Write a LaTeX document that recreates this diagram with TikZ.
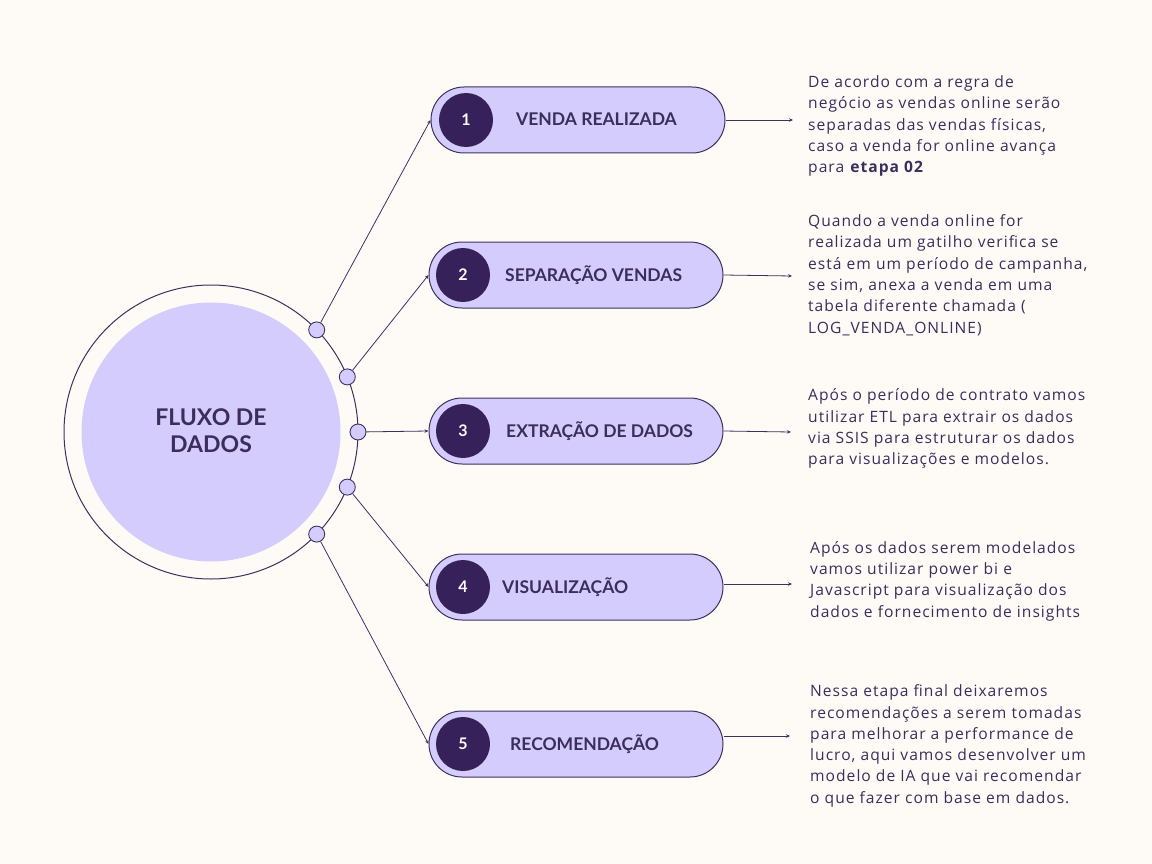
\documentclass[tikz,border=0pt]{standalone}
\usepackage{fontspec}
\setmainfont{Lato}
\newfontfamily\descfont[LetterSpace=6.5]{Open Sans}
\usetikzlibrary{shapes.misc,arrows.meta}
\definecolor{bg}{HTML}{FEFBF6}
\definecolor{lav}{HTML}{D4CCFC}
\definecolor{dark}{HTML}{36215A}
\definecolor{ink}{HTML}{3B2D5C}
\definecolor{edge}{HTML}{3E3160}
\begin{document}
\begin{tikzpicture}[x=1pt,y=-1pt,
 pill/.style={rounded rectangle, draw=edge, line width=1pt, fill=lav, minimum width=294pt, minimum height=66pt, inner sep=0pt},
 num/.style={circle, fill=dark, minimum size=54pt, inner sep=0pt, text=white, font=\fontsize{16}{16}\selectfont\bfseries},
 lbl/.style={anchor=base west, inner sep=0pt, text=ink, font=\fontsize{17.5}{17.5}\selectfont\bfseries},
 dot/.style={circle, draw=edge, line width=0.9pt, fill=lav, minimum size=16pt, inner sep=0pt},
 conn/.style={draw=edge, line width=0.8pt, -{Stealth[length=4pt,width=3.5pt]}},
 desc/.style={anchor=base west, inner sep=0pt, text=ink, font=\descfont\fontsize{15.6}{21.3}\selectfont}
]
\fill[bg] (0,0) rectangle (1152,864);
\useasboundingbox (0,0) rectangle (1152,864);
% central circle
\node[circle, draw=edge, line width=1pt, minimum size=294pt, inner sep=0pt] (outer) at (211,432) {};
\node[circle, fill=lav, minimum size=259pt, inner sep=0pt] (inner) at (211,432) {};
\node[align=center, text=ink, font=\fontsize{23}{27}\selectfont\bfseries] (title) at (211,431) {FLUXO DE\\DADOS};
% pills
\node[pill] (p1) at (578,120) {};
\node[pill] (p2) at (576,275) {};
\node[pill] (p3) at (576,431) {};
\node[pill] (p4) at (576,587) {};
\node[pill] (p5) at (576,744) {};
\node[num] (n1) at (466,120) {1};
\node[num] (n2) at (463,275) {2};
\node[num] (n3) at (463,431) {3};
\node[num] (n4) at (463,587) {4};
\node[num] (n5) at (463,744) {5};
\node[lbl] (l1) at (516,126) {VENDA REALIZADA};
\node[lbl] (l2) at (505,281) {SEPARAÇÃO VENDAS};
\node[lbl] (l3) at (506,437) {EXTRAÇÃO DE DADOS};
\node[lbl] (l4) at (502,593) {VISUALIZAÇÃO};
\node[lbl] (l5) at (510,750) {RECOMENDAÇÃO};
% connectors from center
\node[dot] (s1) at (316.7,329.9) {};
\node[dot] (s2) at (347.3,376.9) {};
\node[dot] (s3) at (358,432) {};
\node[dot] (s4) at (347.3,487.1) {};
\node[dot] (s5) at (316.7,534.1) {};
\draw[conn] (s1) -- (p1.west);
\draw[conn] (s2) -- (p2.west);
\draw[conn] (s3) -- (p3.west);
\draw[conn] (s4) -- (p4.west);
\draw[conn] (s5) -- (p5.west);
% right arrows
\coordinate (e1) at (793,120);
\coordinate (e2) at (792,276);
\coordinate (e3) at (791,432);
\coordinate (e4) at (792,584);
\coordinate (e5) at (790,736);
\draw[conn] (p1.east) -- (e1);
\draw[conn] (p2.east) -- (e2);
\draw[conn] (p3.east) -- (e3);
\draw[conn] (p4.east |- e4) -- (e4);
\draw[conn] (p5.east |- e5) -- (e5);
% descriptions
\node[desc] (d1) at (808,87.5) {\parbox[t]{330pt}{\raggedright De acordo com a regra de\\negócio as vendas online serão\\separadas das vendas físicas,\\caso a venda for online avança\\para \textbf{etapa 02}}};
\node[desc] (d2) at (808,226.7) {\parbox[t]{330pt}{\raggedright Quando a venda online for\\realizada um gatilho verifica se\\está em um período de campanha,\\se sim, anexa a venda em uma\\tabela diferente chamada (\\LOG\_VENDA\_ONLINE)}};
\node[desc] (d3) at (808,400.7) {\parbox[t]{330pt}{\raggedright Após o período de contrato vamos\\utilizar ETL para extrair os dados\\via SSIS para estruturar os dados\\para visualizações e modelos.}};
\node[desc] (d4) at (810,553.3) {\parbox[t]{330pt}{\raggedright Após os dados serem modelados\\vamos utilizar power bi e\\Javascript para visualização dos\\dados e fornecimento de insights}};
\node[desc] (d5) at (810,696.7) {\parbox[t]{330pt}{\raggedright Nessa etapa final deixaremos\\recomendações a serem tomadas\\para melhorar a performance de\\lucro, aqui vamos desenvolver um\\modelo de IA que vai recomendar\\o que fazer com base em dados.}};
\end{tikzpicture}
\end{document}
